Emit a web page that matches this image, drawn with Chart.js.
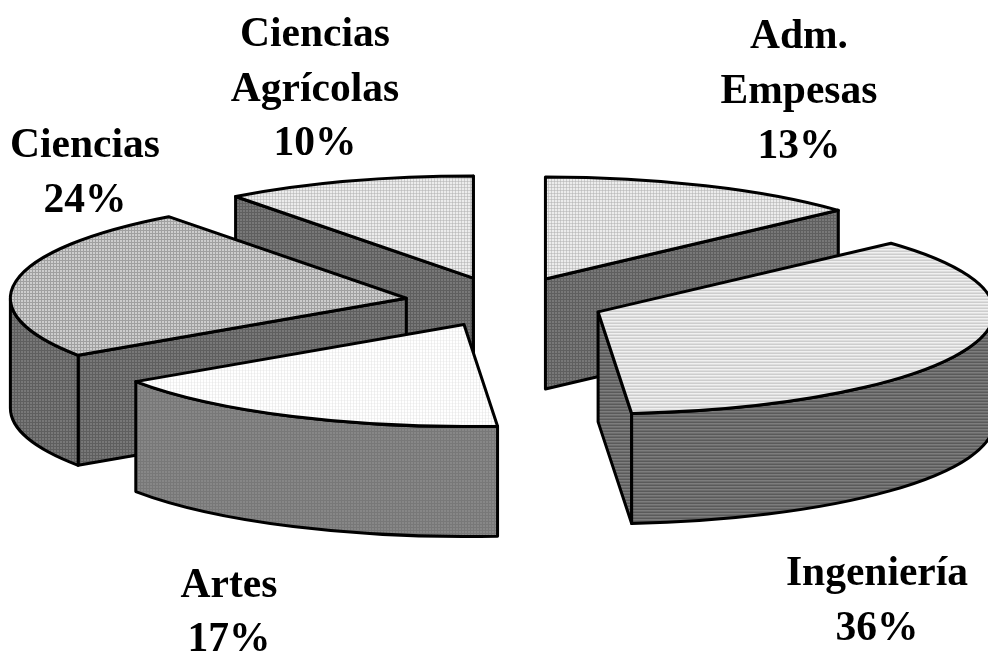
<!DOCTYPE html>
<html lang="en">
<head>
    <meta charset="UTF-8">
    <title>Pie 3D</title>
    <script src="https://cdn.jsdelivr.net/npm/chart.js"></script>
    <style>
        html, body { margin: 0; padding: 0; background: white; overflow: hidden; }
        canvas { display: block; }
    </style>
</head>
<body>
    <canvas id="myChart" width="988" height="652"></canvas>

    <script>
        const categories = ['Adm. Empesas', 'Ingeniería', 'Artes', 'Ciencias', 'Ciencias Agrícolas'];
        const shares = [13.25, 35.4, 16.9, 24.2, 10.25];
        const percentLabels = ['13%', '36%', '17%', '24%', '10%'];
        const labelLines = [['Adm.', 'Empesas'], ['Ingeniería'], ['Artes'], ['Ciencias'], ['Ciencias', 'Agrícolas']];

        // label anchor: centre x, first baseline y, line step
        const labelSpots = [[799, 47.5, 55], [877, 585, 55], [229, 597, 54], [85, 157, 55], [315, 46, 54.5]];

        const squash = 0.2575;
        const depth = 110;

        function tile(rows) {
            const c = document.createElement('canvas');
            c.width = rows[0].length;
            c.height = rows.length;
            const g = c.getContext('2d');
            rows.forEach((row, y) => row.forEach((v, x) => {
                g.fillStyle = `rgb(${v},${v},${v})`;
                g.fillRect(x, y, 1, 1);
            }));
            return g.createPattern(c, 'repeat');
        }

        const ctx = document.getElementById('myChart').getContext('2d');

        const dotted = tile([[236, 236, 205], [205, 205, 190], [236, 236, 205]]);
        const topFaces = [
            dotted,
            tile([[240, 240, 240], [222, 222, 222], [205, 205, 205]]),
            tile([[255, 255, 240], [245, 245, 235], [255, 255, 240]]),
            tile([[205, 205, 160], [205, 205, 160], [160, 160, 160]]),
            dotted
        ];
        const gridWall = tile([[120, 120, 95], [120, 120, 95], [95, 95, 95]]);
        const sideFaces = [
            gridWall,
            tile([[125, 125, 125], [108, 108, 108], [90, 90, 90]]),
            tile([[135, 135, 120], [135, 135, 120], [120, 120, 120]]),
            gridWall,
            gridWall
        ];

        const pie3d = {
            id: 'pie3d',
            beforeDatasetsDraw(chart) {
                const c = chart.ctx;
                const arcs = chart.getDatasetMeta(0).data;
                const slices = arcs.map((arc, i) => {
                    const mid = (arc.startAngle + arc.endAngle) / 2;
                    const push = arc.options.offset;
                    return {
                        i, arc,
                        cx: arc.x + Math.cos(mid) * push,
                        cy: arc.y + Math.sin(mid) * push * squash,
                        a: arc.outerRadius,
                        b: arc.outerRadius * squash
                    };
                }).sort((p, q) => p.cy - q.cy);

                c.save();
                c.lineWidth = 3;
                c.lineJoin = 'round';
                c.strokeStyle = 'black';

                slices.forEach(s => {
                    const start = s.arc.startAngle;
                    const end = s.arc.endAngle;
                    const px = t => s.cx + Math.cos(t) * s.a;
                    const py = t => s.cy + Math.sin(t) * s.b;
                    c.fillStyle = sideFaces[s.i];

                    // flat cut faces, only the ones turned to the viewer
                    const cut = t => {
                        c.beginPath();
                        c.moveTo(s.cx, s.cy);
                        c.lineTo(px(t), py(t));
                        c.lineTo(px(t), py(t) + depth);
                        c.lineTo(s.cx, s.cy + depth);
                        c.closePath();
                        c.fill();
                        c.stroke();
                    };
                    if (Math.cos(start) < 0) cut(start);
                    if (Math.cos(end) > -1e-6 && Math.sin(end) < 1) cut(end);

                    // rounded wall, front half of the ellipse only
                    const from = Math.max(start, 0);
                    const to = Math.min(end, Math.PI);
                    if (to > from) {
                        c.beginPath();
                        c.ellipse(s.cx, s.cy, s.a, s.b, 0, from, to);
                        c.lineTo(px(to), py(to) + depth);
                        c.ellipse(s.cx, s.cy + depth, s.a, s.b, 0, to, from, true);
                        c.closePath();
                        c.fill();
                        c.stroke();
                    }

                    // top
                    c.fillStyle = s.arc.options.backgroundColor;
                    c.beginPath();
                    c.moveTo(s.cx, s.cy);
                    c.ellipse(s.cx, s.cy, s.a, s.b, 0, start, end);
                    c.closePath();
                    c.fill();
                    c.stroke();
                });

                // labels
                c.fillStyle = 'black';
                c.font = 'bold 41.5px "Liberation Serif", "Times New Roman", serif';
                c.textAlign = 'center';
                percentLabels.forEach((p, i) => {
                    const [x, y, step] = labelSpots[i];
                    const lines = [...labelLines[i], p];
                    lines.forEach((t, n) => c.fillText(t, x, y + n * step));
                });
                c.restore();
                return false;
            }
        };

        const myChart = new Chart(ctx, {
            type: 'pie',
            data: {
                labels: categories,
                datasets: [{
                    data: shares,
                    backgroundColor: topFaces,
                    borderWidth: 0,
                    offset: [100, 100, 95, 100, 100]
                }]
            },
            options: {
                responsive: false,
                animation: false,
                radius: 396,
                layout: { padding: { left: 22, bottom: 47 } },
                plugins: { legend: { display: false }, tooltip: { enabled: false } }
            },
            plugins: [pie3d]
        });
    </script>
</body>
</html>
